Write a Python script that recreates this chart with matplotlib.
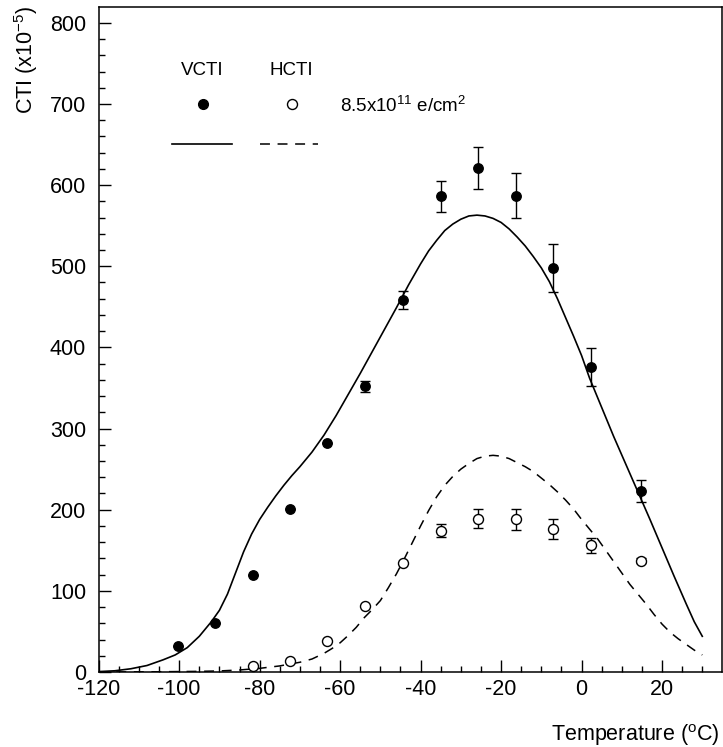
import matplotlib
matplotlib.use('Agg')
import matplotlib.pyplot as plt
from matplotlib.ticker import MultipleLocator

plt.rcParams['font.family'] = ['Liberation Sans', 'DejaVu Sans']
plt.rcParams['mathtext.fontset'] = 'custom'
plt.rcParams['mathtext.rm'] = 'Liberation Sans'
plt.rcParams['mathtext.it'] = 'Liberation Sans:italic'
plt.rcParams['mathtext.bf'] = 'Liberation Sans:bold'
plt.rcParams['axes.unicode_minus'] = False

# ---- data ----
temp = [-100.3, -91.1, -81.7, -72.5, -63.2, -53.8, -44.4, -34.9, -25.7, -16.3, -7.0, 2.4, 14.7]
vcti = [32, 60, 120, 201, 282, 352, 458, 586, 621, 587, 498, 376, 223]
vcti_err = [0, 0, 0, 0, 0, 7, 11, 19, 26, 28, 30, 23, 13]

hcti_temp = [-81.7, -72.5, -63.2, -53.8, -44.4, -34.9, -25.7, -16.3, -7.0, 2.4, 14.7]
hcti = [7, 14, 37.6, 81, 134, 174, 189, 188, 176, 156, 137]
hcti_err = [0, 0, 0, 0, 0, 8, 12, 13, 12, 9, 3]

fit_v_temp = [-120, -116, -112, -108, -104, -101, -98, -95, -92, -90, -88, -86, -84, -82,
              -80, -78, -76, -74, -72, -70, -67, -64, -61, -58, -55, -52, -49, -46,
              -43, -40, -38, -36, -34, -32, -30, -28, -26, -24, -22, -20, -18, -16,
              -14, -12, -10, -8, -6, -4, -2, 0, 2, 5, 8, 11, 14, 17, 20, 23, 26, 28, 30]
fit_v = [0.5, 1.5, 4, 8, 15, 21, 30, 44, 62, 76, 96, 122, 148, 170,
         188, 203, 217, 230, 242, 253, 271, 292, 316, 342, 368, 395, 422, 449,
         477, 503, 519, 532, 544, 552, 558, 562, 563, 562, 559, 554, 546, 536,
         525, 512, 498, 481, 460, 437, 414, 390, 362, 326, 290, 256, 222, 188, 153, 118, 84, 62, 44]

fit_h_temp = [-120, -105, -95, -90, -85, -80, -75, -70, -67, -64, -62, -60, -58, -56, -54,
              -52, -50, -48, -46, -44, -42, -40, -38, -36, -34, -32, -30, -28, -26, -24,
              -22, -20, -18, -16, -14, -12, -10, -8, -6, -4, -2, 0, 2, 4, 6, 8, 10, 12,
              14, 16, 18, 20, 22, 24, 26, 28, 30]
fit_h = [0, 0.3, 0.8, 1.3, 2.5, 4.5, 7.5, 12, 16, 23, 29, 36, 45, 55, 67,
         77, 88, 104, 121, 140, 160, 180, 199, 216, 230, 241, 250, 257, 263, 266,
         267, 266, 263, 258, 253, 247, 239, 231, 222, 212, 201, 188, 176, 164, 150, 136, 122, 108,
         96, 84, 71, 59, 49, 41, 34, 27, 21]

W, H = 723, 747
fig = plt.figure(figsize=(W / 100, H / 100), dpi=100)
L, R, T, B = 98.7, 722.0, 7.0, 672.0
ax = fig.add_axes([L / W, 1 - B / H, (R - L) / W, (B - T) / H])

ax.plot(fit_v_temp, fit_v, color='black', lw=1.2, solid_joinstyle='round')
ax.plot(fit_h_temp, fit_h, color='black', lw=1.1, linestyle=(0, (6.5, 5)))

ax.errorbar(temp, vcti, yerr=vcti_err, fmt='o', color='black', ms=6.8,
            ecolor='black', elinewidth=1.0, capsize=3.6, capthick=1.0, zorder=3)
ax.errorbar(hcti_temp, hcti, yerr=hcti_err, fmt='o', mfc='white', mec='black', mew=1.0,
            ms=7.2, ecolor='black', elinewidth=1.0, capsize=3.6, capthick=1.0, zorder=3)

ax.set_xlim(-120, 34.9)
ax.set_ylim(0, 819.5)
ax.xaxis.set_major_locator(MultipleLocator(20))
ax.xaxis.set_minor_locator(MultipleLocator(5))
ax.yaxis.set_major_locator(MultipleLocator(100))
ax.yaxis.set_minor_locator(MultipleLocator(20))
ax.tick_params(which='both', direction='in', top=False, right=False, width=1.0)
ax.tick_params(which='major', length=8.6)
ax.tick_params(which='minor', length=4.3)
ax.tick_params(axis='x', which='major', pad=5, labelsize=15.5)
ax.tick_params(axis='y', which='major', pad=9, labelsize=15.5)
for s in ax.spines.values():
    s.set_linewidth(1.1)

# axis titles
fig.text(720 / W, 1 - 741 / H, r'Temperature ($^{\mathregular{o}}$C)', ha='right',
         va='baseline', fontsize=15.5)
fig.text(26 / W, 1 - 6 / H, r'CTI (x10$^{\mathregular{-5}}$)', rotation=90,
         ha='center', va='top', fontsize=15.5)

# legend (drawn manually, in axes fraction)
def fx(px):
    return (px - L) / (R - L)

def fy(py):
    return (B - py) / (B - T)

tr = ax.transAxes
ax.text(fx(202), fy(75), 'VCTI', transform=tr, ha='center', va='baseline', fontsize=13.5)
ax.text(fx(291), fy(75), 'HCTI', transform=tr, ha='center', va='baseline', fontsize=13.5)
ax.plot([fx(203.3)], [fy(104.3)], 'o', color='black', ms=7, transform=tr, clip_on=False)
ax.plot([fx(291.7)], [fy(104.3)], 'o', mfc='white', mec='black', mew=1.0, ms=7.2,
        transform=tr, clip_on=False)
ax.text(fx(340), fy(111.5), r'8.5x10$^{\mathregular{11}}$ e/cm$^{\mathregular{2}}$',
        transform=tr, ha='left', va='baseline', fontsize=13.5)
ax.plot([fx(171.7), fx(231.7)], [fy(144.3), fy(144.3)], color='black', lw=1.2, transform=tr)
ax.plot([fx(260), fx(318.3)], [fy(144.3), fy(144.3)], color='black', lw=1.1,
        linestyle=(0, (6.5, 5)), transform=tr)

fig.savefig('out.png', dpi=100)
